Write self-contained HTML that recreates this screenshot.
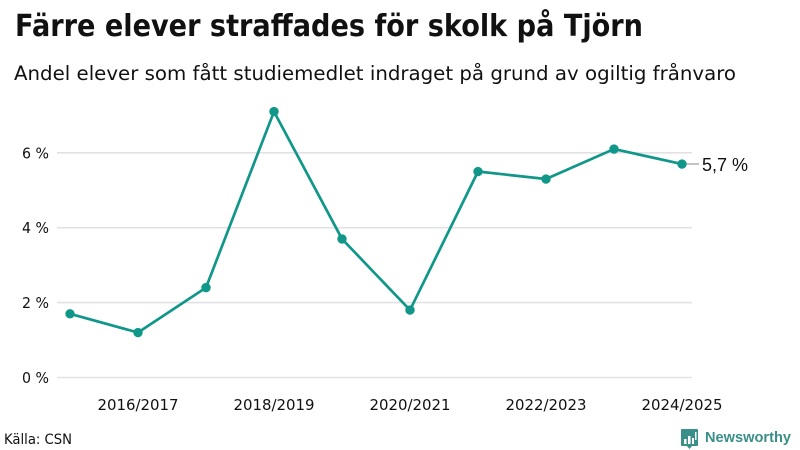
<!DOCTYPE html>
<html lang="sv">
<head>
<meta charset="utf-8">
<title>Färre elever straffades för skolk på Tjörn</title>
<style>
html,body{margin:0;padding:0;background:#fff;}
svg{display:block;}
text{font-family:"DejaVu Sans","Liberation Sans",sans-serif;fill:#111;}
</style>
</head>
<body>
<svg id="chart" width="800" height="450" viewBox="0 0 800 450" xmlns="http://www.w3.org/2000/svg">
  <rect width="800" height="450" fill="#fff"/>
  <text x="15" y="36" font-size="30.5" font-weight="700" textLength="628" lengthAdjust="spacingAndGlyphs">Färre elever straffades för skolk på Tjörn</text>
  <text x="14" y="80" font-size="19.5" textLength="722" lengthAdjust="spacingAndGlyphs">Andel elever som fått studiemedlet indraget på grund av ogiltig frånvaro</text>
  <g id="grid"></g>
  <g id="xaxis"></g>
  <g id="series"></g>
  <text x="4" y="444" font-size="14.5" textLength="68" lengthAdjust="spacingAndGlyphs">Källa: CSN</text>
  <g>
    <path d="M682 429h15a1 1 0 0 1 1 1v15a1 1 0 0 1-1 1h-5l-2.500 3-2.500-3h-5a1 1 0 0 1-1-1v-15a1 1 0 0 1 1-1z" fill="#3a8f88"/>
    <rect x="684" y="439" width="2.500" height="5" fill="#fff"/>
    <rect x="688" y="436" width="2.500" height="8" fill="#fff"/>
    <rect x="692" y="438" width="2" height="6" fill="#fff"/>
    <rect x="695" y="432" width="1.500" height="8" fill="#fff"/>
    <text x="705" y="442" font-size="15" font-weight="700" style="font-family:'Liberation Sans',sans-serif;fill:#3a8f88" textLength="86" lengthAdjust="spacingAndGlyphs">Newsworthy</text>
  </g>
</svg>
<script>
const categories = ["2015/2016","2016/2017","2017/2018","2018/2019","2019/2020","2020/2021","2021/2022","2022/2023","2023/2024","2024/2025"];
const shareValues = [1.7,1.2,2.4,7.1,3.7,1.8,5.5,5.3,6.1,5.7];
const yTicks = [0,2,4,6];
const lastValueLabel = "5,7 %";

const NS = "http://www.w3.org/2000/svg";
const plot = {left:57,right:692,firstX:70,stepX:68,zeroY:377.5,unitY:37.45};
function xScale(i){return plot.firstX + i*plot.stepX;}
function yScale(v){return plot.zeroY - v*plot.unitY;}
function make(parent,tag,attrs,text){
  const el = document.createElementNS(NS,tag);
  for(const k in attrs){el.setAttribute(k,attrs[k]);}
  if(text!==undefined){el.textContent=text;}
  parent.appendChild(el);
  return el;
}
const grid = document.getElementById("grid");
yTicks.forEach(function(t){
  const line = make(grid,"line",{x1:plot.left,x2:plot.right,y1:yScale(t),y2:yScale(t),stroke:"#e2e2e6","stroke-width":1.6});
  
  
  const label = make(grid,"text",{x:49,y:yScale(t)+5.5,"text-anchor":"end","font-size":15,textLength:27,lengthAdjust:"spacingAndGlyphs"},t+" %");
  
  
});
const xaxis = document.getElementById("xaxis");
categories.forEach(function(c,i){
  if(i%2===1){
    const label = make(xaxis,"text",{x:xScale(i),y:410,"text-anchor":"middle","font-size":15,textLength:81,lengthAdjust:"spacingAndGlyphs"},c);
    
    
  }
});
const series = document.getElementById("series");
const lastIndex = shareValues.length-1;
const leader = make(series,"line",{x1:xScale(lastIndex),x2:xScale(lastIndex)+17,y1:yScale(shareValues[lastIndex]),y2:yScale(shareValues[lastIndex]),stroke:"#888","stroke-width":1});


const path = make(series,"polyline",{points:shareValues.map(function(v,i){return xScale(i)+","+yScale(v);}).join(" "),fill:"none",stroke:"#10978a","stroke-width":2.7,"stroke-linejoin":"round"});


shareValues.forEach(function(v,i){
  const dot = make(series,"circle",{cx:xScale(i),cy:yScale(v),r:4.7,fill:"#10978a"});
  
  
});
const valueLabel = make(series,"text",{x:xScale(lastIndex)+20,y:yScale(shareValues[lastIndex])+7,"font-size":18,style:"font-family:'Liberation Sans',sans-serif"},lastValueLabel);


</script>
</body>
</html>
